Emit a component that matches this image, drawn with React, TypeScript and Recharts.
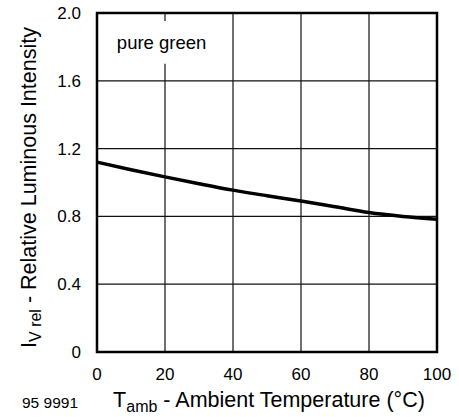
import React from 'react';
import {
  LineChart,
  Line,
  XAxis,
  YAxis,
  CartesianGrid,
  ReferenceArea,
  Label,
} from 'recharts';

const temps = [0, 10, 20, 30, 40, 50, 60, 70, 80, 90, 100];
const intensity = [1.12, 1.075, 1.033, 0.993, 0.955, 0.922, 0.891, 0.857, 0.823, 0.8, 0.783];
const xTicks = [0, 20, 40, 60, 80, 100];
const yTicks = [0, 0.4, 0.8, 1.2, 1.6, 2.0];

const data = temps.map((t, i) => ({ t, iv: intensity[i] }));

const font = 'Liberation Sans, Arial, Helvetica, sans-serif';

const XTitle = ({ viewBox }: any) => {
  const cx = viewBox.x + viewBox.width / 2 + 2;
  const y = viewBox.y + 55;
  return (
    <g>
      <text x={cx} y={y} textAnchor="middle" fontSize={21.5} fontFamily={font} fill="#000">
        T<tspan fontSize={16} dy={5}>amb</tspan>
        <tspan dy={-5}> - Ambient Temperature (°C)</tspan>
      </text>
      <text x={22} y={y + 1} fontSize={15.5} fontFamily={font} fill="#000">
        95 9991
      </text>
    </g>
  );
};

const YTitle = ({ viewBox }: any) => {
  const cy = viewBox.y + viewBox.height / 2 + 5;
  const x = 36;
  return (
    <text
      x={x}
      y={cy}
      textAnchor="middle"
      fontSize={21.5}
      fontFamily={font}
      fill="#000"
      transform={`rotate(-90, ${x}, ${cy})`}
    >
      I<tspan fontSize={16} dy={5}>V rel</tspan>
      <tspan dy={-5}> - Relative Luminous Intensity</tspan>
    </text>
  );
};

export default function App() {
  return (
    <div style={{ position: 'absolute', left: 0, top: 0, background: '#fff' }}>
      <LineChart
        width={459}
        height={417}
        data={data}
        margin={{ top: 13, right: 22, bottom: 0, left: 0 }}
      >
        <CartesianGrid stroke="#111" strokeWidth={1.2} />
        <XAxis
          dataKey="t"
          type="number"
          domain={[0, 100]}
          ticks={xTicks}
          height={65}
          axisLine={false}
          tickLine={false}
          tickMargin={10}
          tick={{ fontSize: 17, fontFamily: font, fill: '#000' }}
        >
          <Label content={<XTitle />} />
        </XAxis>
        <YAxis
          type="number"
          domain={[0, 2]}
          ticks={yTicks}
          width={97}
          axisLine={false}
          tickLine={false}
          tickMargin={10}
          tick={{ fontSize: 17, fontFamily: font, fill: '#000' }}
          tickFormatter={(v: number) => (v === 0 ? '0' : v.toFixed(1))}
        >
          <Label content={<YTitle />} />
        </YAxis>
        <ReferenceArea
          x1={5}
          x2={33}
          y1={1.7}
          y2={1.953}
          fill="#fff"
          fillOpacity={1}
          stroke="none"
          label={{ value: 'pure green', position: 'center', fontSize: 18.5, fontFamily: font, fill: '#000' }}
        />
        <ReferenceArea
          x1={0}
          x2={100}
          y1={0}
          y2={2}
          fill="none"
          stroke="#000"
          strokeWidth={2.5}
        />
        <Line
          type="monotone"
          dataKey="iv"
          stroke="#000"
          strokeWidth={3.5}
          dot={false}
          isAnimationActive={false}
        />
      </LineChart>
    </div>
  );
}
